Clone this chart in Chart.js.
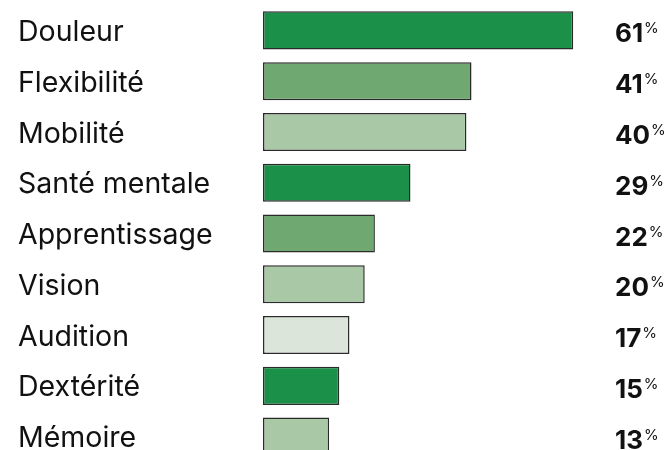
<!DOCTYPE html>
<html>
<head>
<meta charset="utf-8">
<script src="https://cdn.jsdelivr.net/npm/chart.js@4/dist/chart.umd.min.js"></script>
<style>
  html, body { margin: 0; padding: 0; background: #ffffff; overflow: hidden; }
  #wrap { position: relative; width: 671px; height: 462px; }
</style>
</head>
<body>
<div id="wrap"><canvas id="c"></canvas></div>
<script>
const categories = ["Douleur", "Flexibilité", "Mobilité", "Santé mentale", "Apprentissage", "Vision", "Audition", "Dextérité", "Mémoire"];
const values = [61, 41, 40, 29, 22, 20, 17, 15, 13];
const barColors = ["#1a9048", "#6fa870", "#a9c8a6", "#1a9048", "#6fa870", "#a9c8a6", "#dbe5da", "#1a9048", "#a9c8a6"];
const valueSuffix = "%";

const FONT = "Inter, 'Noto Sans', sans-serif";

const valueLabels = {
  id: 'valueLabels',
  afterDatasetsDraw(chart) {
    const ctx = chart.ctx;
    const meta = chart.getDatasetMeta(0);
    const x0 = chart.width - 56;
    ctx.save();
    meta.data.forEach((bar, i) => {
      const num = String(values[i]);
      ctx.font = "bold 26px " + FONT;
      ctx.fillStyle = "#111111";
      ctx.textAlign = "left";
      ctx.textBaseline = "alphabetic";
      ctx.fillText(num, x0, bar.y + 12);
      const w = ctx.measureText(num).width;
      ctx.font = "15px " + FONT;
      ctx.fillText(valueSuffix, x0 + w + 1, bar.y + 3);
    });
    ctx.restore();
  }
};

new Chart(document.getElementById('c'), {
  type: 'bar',
  data: {
    labels: categories,
    datasets: [{
      data: values,
      backgroundColor: barColors,
      borderColor: "#2a2a2a",
      borderWidth: 1.5,
      borderSkipped: false,
      barPercentage: 0.75,
      categoryPercentage: 1.0
    }]
  },
  options: {
    indexAxis: 'y',
    responsive: true,
    maintainAspectRatio: false,
    animation: false,
    layout: { padding: { left: 18, right: 52, top: 5, bottom: 0 } },
    plugins: { legend: { display: false }, tooltip: { enabled: false } },
    scales: {
      x: {
        min: 0, max: 70,
        display: false,
        grid: { display: false }
      },
      y: {
        grid: { display: false },
        border: { display: false },
        ticks: {
          crossAlign: 'far',
          color: "#111111",
          padding: 0,
          labelOffset: 2,
          font: { family: FONT, size: 28.5 }
        },
        afterFit(scale) {
          scale.width = 245;
          scale.paddingTop = 0;
          scale.paddingBottom = 0;
        }
      }
    }
  },
  plugins: [valueLabels]
});
</script>
</body>
</html>
